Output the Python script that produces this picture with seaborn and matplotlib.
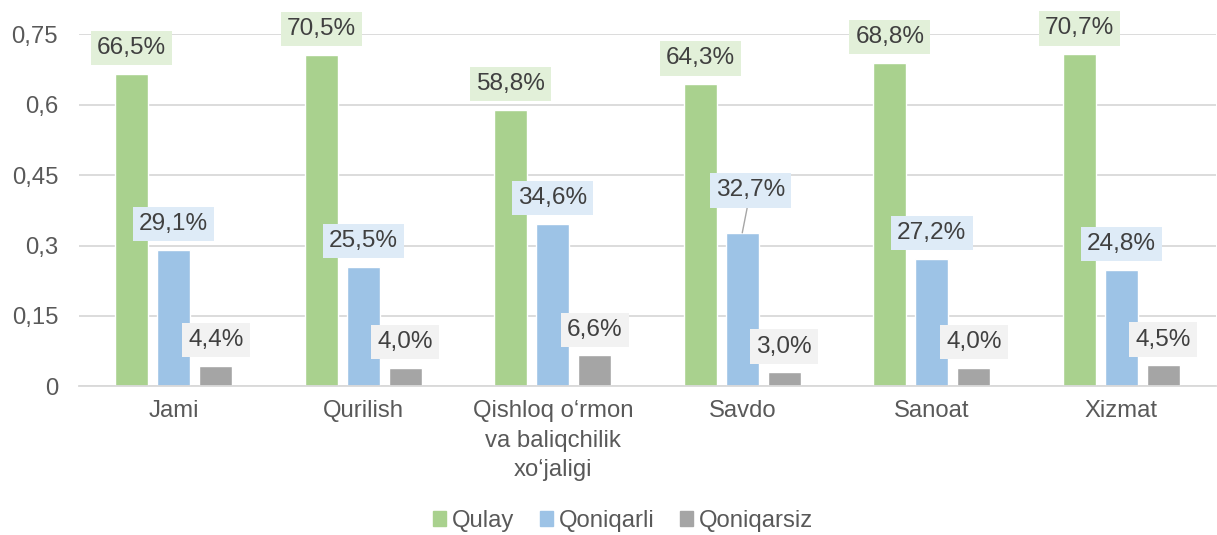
import matplotlib

matplotlib.use("Agg")
import matplotlib.pyplot as plt
import numpy as np
import pandas as pd
import seaborn as sns

# =============================================================================
# Data
# =============================================================================

categories = [
    "Jami",
    "Qurilish",
    "Qishloq o\u2018rmon\nva baliqchilik\nxo\u2018jaligi",
    "Savdo",
    "Sanoat",
    "Xizmat",
]
series = ["Qulay", "Qoniqarli", "Qoniqarsiz"]
qulay = [0.665, 0.705, 0.588, 0.643, 0.688, 0.707]
qoniqarli = [0.291, 0.255, 0.346, 0.327, 0.272, 0.248]
qoniqarsiz = [0.044, 0.040, 0.066, 0.030, 0.040, 0.045]
y_ticks = [0, 0.15, 0.3, 0.45, 0.6, 0.75]

bar_colors = ["#A9D18E", "#9DC3E6", "#A5A5A5"]
box_colors = ["#E2F0D9", "#DEEBF7", "#F2F2F2"]

# =============================================================================
# Plot
# =============================================================================

sns.set_theme(style="white")
plt.rcParams["font.family"] = ["Liberation Sans", "DejaVu Sans"]

df = pd.DataFrame(
    {
        "category": np.repeat(categories, len(series)),
        "series": series * len(categories),
        "value": np.ravel(np.column_stack([qulay, qoniqarli, qoniqarsiz])),
    }
)

fig = plt.figure(figsize=(12.17, 5.35), dpi=100)
ax = fig.add_axes([0.0649, 0.2776, 0.9343, 0.6588])

sns.barplot(
    data=df,
    x="category",
    y="value",
    hue="series",
    order=categories,
    hue_order=series,
    palette=bar_colors,
    width=0.665,
    gap=0.215,
    saturation=1,
    ax=ax,
)
ax.get_legend().remove()

ax.set_xlim(-0.5, len(categories) - 0.5)
ax.set_ylim(0, 0.75)
ax.set_yticks(y_ticks)
ax.set_yticklabels([f"{t:g}".replace(".", ",") for t in y_ticks])
ax.yaxis.grid(True, color="#D9D9D9", linewidth=1.3)
ax.set_axisbelow(True)
for side in ["left", "right", "top"]:
    ax.spines[side].set_visible(False)
ax.spines["bottom"].set_color("#D9D9D9")
ax.spines["bottom"].set_linewidth(1.3)
ax.tick_params(axis="y", length=0, pad=15, labelsize=17.2, labelcolor="#595959")
ax.tick_params(axis="x", length=0, pad=10, labelsize=17.2, labelcolor="#595959")
for lbl in ax.get_xticklabels():
    lbl.set_linespacing(1.42)
ax.set_xlabel("")
ax.set_ylabel("")

# Data labels in coloured boxes above each bar
for s_idx, container in enumerate(ax.containers):
    for c_idx, bar in enumerate(container):
        v = bar.get_height()
        x = bar.get_x() + bar.get_width() / 2
        offset = (0, 18.6)
        arrow = None
        if series[s_idx] == "Qoniqarli" and categories[c_idx] == "Savdo":
            offset = (6, 30.5)
            arrow = dict(arrowstyle="-", color="#A6A6A6", lw=1, shrinkA=0, shrinkB=0)
        ax.annotate(
            f"{v * 100:.1f}%".replace(".", ","),
            xy=(x, v),
            xytext=offset,
            textcoords="offset points",
            ha="center",
            va="center",
            fontsize=17.6,
            color="#404040",
            bbox=dict(boxstyle="square,pad=0.25", fc=box_colors[s_idx], ec="none"),
            arrowprops=arrow,
            annotation_clip=False,
        )

handles = [plt.Rectangle((0, 0), 1, 1, color=c) for c in bar_colors]
fig.legend(
    handles,
    series,
    loc="center",
    bbox_to_anchor=(0.512, 0.026),
    ncol=3,
    frameon=False,
    fontsize=17.2,
    labelcolor="#595959",
    handlelength=0.55,
    handleheight=0.55,
    handletextpad=0.25,
    columnspacing=1.05,
)

fig.savefig("out.png", dpi=100)
